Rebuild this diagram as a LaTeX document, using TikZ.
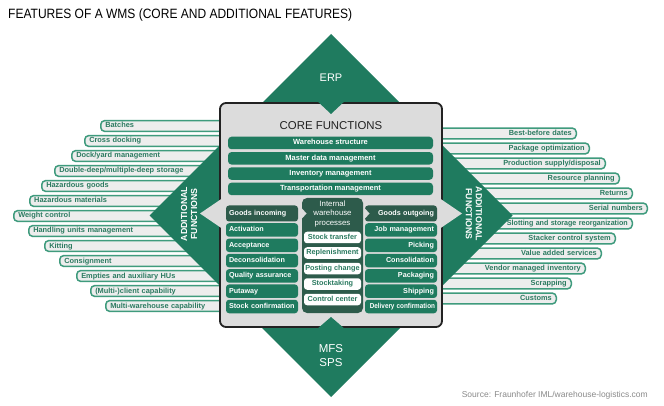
\documentclass[tikz,border=0pt]{standalone}
\usepackage{fontspec}
\setmainfont{Liberation Sans}
\definecolor{wgreen}{HTML}{1F7B5F}
\definecolor{wdark}{HTML}{2D5B4B}
\definecolor{boxfill}{HTML}{DCDCDC}
\definecolor{barfill}{HTML}{EDEDED}
\definecolor{barline}{HTML}{3F9B7D}
\definecolor{bartext}{HTML}{2B7A60}
\definecolor{boxline}{HTML}{222222}
\definecolor{srcgray}{HTML}{8A8A8A}
\begin{document}
\begin{tikzpicture}[x=1pt,y=-1pt,
  lbar/.style={draw=barline, fill=barfill, line width=1.5pt, rounded corners=4pt,
    minimum height=10.8pt, inner ysep=0pt, inner xsep=4.5pt, text height=5.5pt, text depth=1.5pt,
    font=\fontsize{7.4}{8}\selectfont\bfseries, text=bartext},
  lb/.style={lbar, anchor=west, align=left},
  rb/.style={lbar, anchor=east, align=right},
  corerow/.style={fill=wgreen, rounded corners=3.5pt, minimum width=205pt, minimum height=12.5pt,
    inner sep=0pt, text=white, font=\fontsize{7.5}{8}\selectfont\bfseries, text height=5.4pt, text depth=1.4pt},
  colrow/.style={fill=wgreen, rounded corners=3pt, minimum height=13.5pt, inner ysep=0pt, inner xsep=3pt,
    text width=66pt, text=white, font=\fontsize{7.2}{8}\selectfont\bfseries, text height=5.4pt, text depth=1.4pt},
  lrow/.style={colrow, align=left},
  rrow/.style={colrow, align=right},
  goods/.style={fill=wdark, minimum height=16pt},
  ibox/.style={fill=white, rounded corners=3pt, minimum width=57pt, minimum height=11.5pt, inner sep=0pt,
    text=bartext, font=\fontsize{7.3}{8}\selectfont\bfseries, text height=5.3pt, text depth=1.4pt},
  wlabel/.style={text=white, align=center}
]
\useasboundingbox (0,0) rectangle (664,406);
\fill[white] (0,0) rectangle (664,406);

% title
\node[anchor=west, inner sep=0pt, font=\fontsize{13.5}{16}\selectfont] (title) at (8,15)
  {\scalebox{0.89}[1]{FEATURES OF A WMS (CORE AND ADDITIONAL FEATURES)}};

% left bars
\node[lb, text width=123pt] (L1) at (100,126) {Batches};
\node[lb, text width=139pt] (L2) at (84,141) {Cross docking};
\node[lb, text width=152pt] (L3) at (71,156) {Dock/yard management};
\node[lb, text width=169pt] (L4) at (54,171) {Double-deep/multiple-deep storage};
\node[lb, text width=182pt] (L5) at (41,186) {Hazardous goods};
\node[lb, text width=194pt] (L6) at (29,201) {Hazardous materials};
\node[lb, text width=210pt] (L7) at (13,216) {Weight control};
\node[lb, text width=195pt] (L8) at (28,231) {Handling units management};
\node[lb, text width=179pt] (L9) at (44,246) {Kitting};
\node[lb, text width=164pt] (L10) at (59,261) {Consignment};
\node[lb, text width=147pt] (L11) at (76,276) {Empties and auxiliary HUs};
\node[lb, text width=133pt] (L12) at (90,291) {(Multi-)client capability};
\node[lb, text width=118pt] (L13) at (105,306) {Multi-warehouse capability};

% right bars
\node[rb, text width=138pt] (R1) at (577,133.5) {Best-before dates};
\node[rb, text width=151pt] (R2) at (590,148.5) {Package optimization};
\node[rb, text width=167pt] (R3) at (606,163.5) {Production supply/disposal};
\node[rb, text width=181pt] (R4) at (620,178.5) {Resource planning};
\node[rb, text width=194pt] (R5) at (633,193.5) {Returns};
\node[rb, text width=209pt] (R6) at (648,208.5) {Serial numbers};
\node[rb, text width=194pt] (R7) at (633,223.5) {\scalebox{0.96}[1]{Slotting and storage reorganization}};
\node[rb, text width=177pt] (R8) at (616,238.5) {Stacker control system};
\node[rb, text width=163pt] (R9) at (602,253.5) {Value added services};
\node[rb, text width=147pt] (R10) at (586,268.5) {Vendor managed inventory};
\node[rb, text width=133pt] (R11) at (572,283.5) {Scrapping};
\node[rb, text width=118pt] (R12) at (557,298.5) {Customs};

% diamond
\fill[wgreen] (331,34) -- (512.5,215.5) -- (331,397) -- (149.5,215.5) -- cycle;

% core box
\draw[line width=1.8pt, draw=boxline, fill=boxfill, rounded corners=6pt] (220,103) rectangle (442,327);
\fill[boxfill] (221.3,199) -- (200,213.5) -- (221.3,228) -- cycle;
\fill[boxfill] (440.7,199) -- (462,213.5) -- (440.7,228) -- cycle;
\fill[wgreen] (318,101.8) -- (344,101.8) -- (331,114) -- cycle;
\fill[wgreen] (318,328.2) -- (344,328.2) -- (331,317) -- cycle;

% labels in diamond
\node[wlabel, font=\fontsize{11}{13}\selectfont] (erp) at (331,78) {ERP};
\node[wlabel, font=\fontsize{11.5}{14}\selectfont] (mfs) at (331,356) {MFS\\SPS};
\node[wlabel, rotate=90, font=\fontsize{8.8}{10}\selectfont\bfseries] (addl) at (189,214) {ADDITIONAL\\FUNCTIONS};
\node[wlabel, rotate=-90, font=\fontsize{8.8}{10}\selectfont\bfseries] (addr) at (474,214) {ADDITIONAL\\FUNCTIONS};

% core functions
\node[font=\fontsize{11.4}{13}\selectfont, text=boxline] (coretitle) at (331,126) {CORE FUNCTIONS};
\node[corerow] (c1) at (330.5,143) {Warehouse structure};
\node[corerow] (c2) at (330.5,158.3) {Master data management};
\node[corerow] (c3) at (330.5,173.6) {Inventory management};
\node[corerow] (c4) at (330.5,188.9) {Transportation management};

% left column
\node[lrow, goods] (gin) at (262,213.5) {Goods incoming};
\node[lrow] (a1) at (262,230) {Activation};
\node[lrow] (a2) at (262,245.3) {Acceptance};
\node[lrow] (a3) at (262,260.6) {Deconsolidation};
\node[lrow] (a4) at (262,275.9) {Quality assurance};
\node[lrow] (a5) at (262,291.2) {Putaway};
\node[lrow] (a6) at (262,306.5) {Stock confirmation};

% middle block
\node[fill=wdark, rounded corners=5pt, minimum width=61pt, minimum height=115pt, inner sep=0pt] (iwp) at (332.5,255.5) {};
\node[wlabel, font=\fontsize{7.8}{9.5}\selectfont] (iwph) at (332.5,213.5) {Internal\\warehouse\\processes};
\node[ibox] (i1) at (332.5,237.5) {Stock transfer};
\node[ibox] (i2) at (332.5,253) {Replenishment};
\node[ibox] (i3) at (332.5,268.5) {Posting change};
\node[ibox] (i4) at (332.5,284) {Stocktaking};
\node[ibox] (i5) at (332.5,299.5) {Control center};

% right column
\node[rrow, goods] (gout) at (401,213.5) {Goods outgoing};
\node[rrow] (b1) at (401,230) {Job management};
\node[rrow] (b2) at (401,245.3) {Picking};
\node[rrow] (b3) at (401,260.6) {Consolidation};
\node[rrow] (b4) at (401,275.9) {Packaging};
\node[rrow] (b5) at (401,291.2) {Shipping};
\node[rrow, inner xsep=2pt, text width=68pt] (b6) at (401,306.5) {\scalebox{0.88}[1]{Delivery confirmation}};

% flow notches
\fill[boxfill] (302,208.5) -- (306.5,213.5) -- (302,218.5) -- cycle;
\fill[boxfill] (365,208.5) -- (369.5,213.5) -- (365,218.5) -- cycle;

% source
\node[anchor=east, inner sep=0pt, text=srcgray, font=\fontsize{8.5}{10}\selectfont] (src) at (648,395)
  {Source: Fraunhofer IML/warehouse-logistics.com};
\end{tikzpicture}
\end{document}
